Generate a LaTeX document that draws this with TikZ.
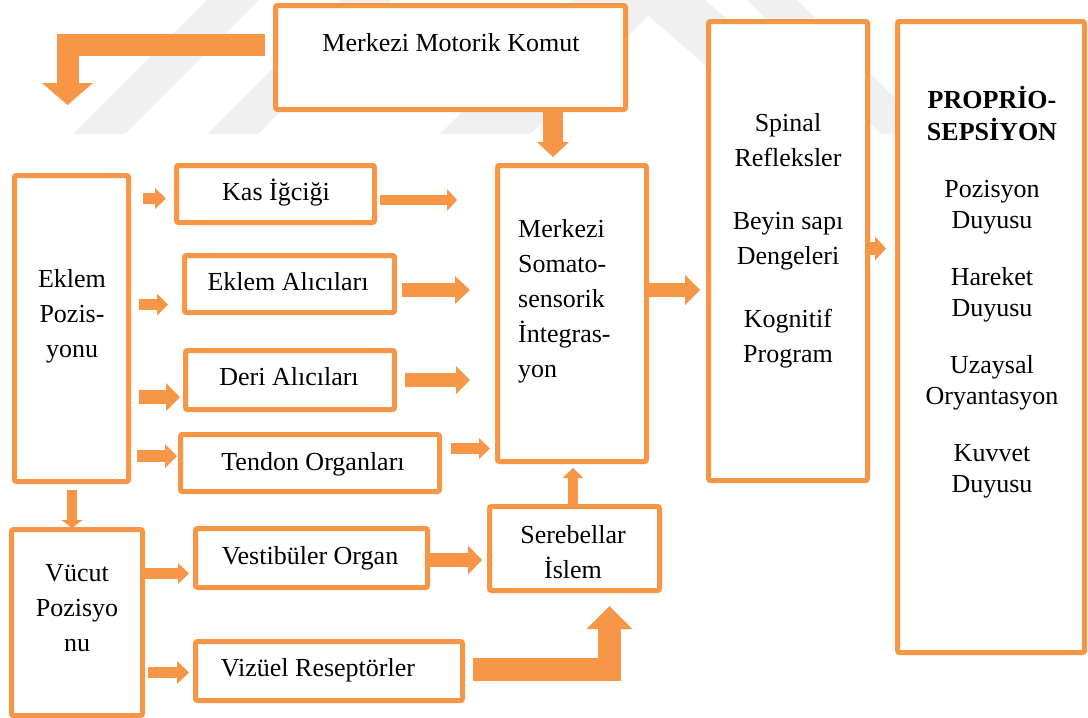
\documentclass[tikz,border=0pt]{standalone}
\usepackage{fontspec}
\setmainfont{Liberation Serif}
\usetikzlibrary{arrows.meta}
\definecolor{orng}{HTML}{F79646}
\definecolor{wm}{HTML}{F0F0F0}
\begin{document}
\begin{tikzpicture}[x=1pt,y=-1pt,
  box/.style={draw=orng, fill=white, line width=5pt, rounded corners=2pt, inner sep=0pt},
  txt/.style={inner sep=0pt, font=\fontsize{26}{35}\selectfont, align=center},
  ba/.style n args={3}{draw=orng, line width=#1, line cap=butt, line join=miter,
     -{Triangle[width=#2, length=#3, line width=0pt]}}]
\useasboundingbox (0,0) rectangle (1088,718);
\fill[white] (0,0) rectangle (1088,718);
% watermark
\begin{scope}
\clip (0,0) rectangle (1088,134);
\fill[wm] (207,0) -- (259,0) -- (125,134) -- (73,134) -- cycle;
\fill[wm] (341,0) -- (392,0) -- (258,134) -- (207,134) -- cycle;
\fill[wm] (574,0) -- (664,0) -- (530,134) -- (440,134) -- cycle;
\fill[wm] (630,0) -- (705,0) -- (860,134) -- (785,134) -- cycle;
\fill[wm] (747,0) -- (797,0) -- (931,134) -- (881,134) -- cycle;
\end{scope}
% boxes
\node[box, minimum width=350pt, minimum height=104pt] (mmk) at (450.5,57.5) {};
\node[box, minimum width=114pt, minimum height=306pt] (eklem) at (71.5,328.5) {};
\node[box, minimum width=198pt, minimum height=57pt] (kas) at (275.5,194) {};
\node[box, minimum width=210pt, minimum height=57pt] (alici) at (289.5,284) {};
\node[box, minimum width=209pt, minimum height=59pt] (deri) at (290,380) {};
\node[box, minimum width=259pt, minimum height=57pt] (tendon) at (310,463) {};
\node[box, minimum width=149pt, minimum height=296pt] (somato) at (572,313.5) {};
\node[box, minimum width=159pt, minimum height=459pt] (spinal) at (788,251) {};
\node[box, minimum width=187pt, minimum height=631pt] (proprio) at (991,337) {};
\node[box, minimum width=131pt, minimum height=186pt] (vucut) at (77,622.5) {};
\node[box, minimum width=232pt, minimum height=59pt] (vest) at (311.5,558) {};
\node[box, minimum width=170pt, minimum height=84pt] (sereb) at (574.5,548.5) {};
\node[box, minimum width=267pt, minimum height=59pt] (vizuel) at (329,671) {};
% texts
\node[txt] (tmmk) at (451,44.5) {\strut Merkezi Motorik Komut\strut};
\node[txt] (teklem) at (72,315) {\strut Eklem\\Pozis-\\yonu\strut};
\node[txt] (tkas) at (276,193.5) {\strut Kas İğciği\strut};
\node[txt] (talici) at (288,283.5) {\strut Eklem Alıcıları\strut};
\node[txt] (tderi) at (289,378) {\strut Deri Alıcıları\strut};
\node[txt] (ttendon) at (313,463.5) {\strut Tendon Organları\strut};
\node[txt, align=left, anchor=west] (tsomato) at (518,300) {\strut Merkezi\\Somato-\\sensorik\\İntegras-\\yon\strut};
\node[txt] (tspinal) at (788,239.5) {\strut Spinal\\Refleksler\\[28pt]Beyin sapı\\Dengeleri\\[28pt]Kognitif\\Program\strut};
\node[txt, font=\fontsize{26}{31}\selectfont] (tproprio) at (992,294) {\strut\textbf{PROPRİO-}\\\textbf{SEPSİYON}\\[26pt]Pozisyon\\Duyusu\\[26pt]Hareket\\Duyusu\\[26pt]Uzaysal\\Oryantasyon\\[26pt]Kuvvet\\Duyusu\strut};
\node[txt] (tvucut) at (77,609) {\strut Vücut\\Pozisyo\\nu\strut};
\node[txt] (tvest) at (310,557.5) {\strut Vestibüler Organ\strut};
\node[txt] (tsereb) at (573,554) {\strut Serebellar\\İslem\strut};
\node[txt] (tvizuel) at (318,669.5) {\strut Vizüel Reseptörler\strut};
% arrow end points
\coordinate (a1s) at (265,45);   \coordinate (a1e) at (67.5,105);
\coordinate (a2) at (553,157);
\coordinate (a3s) at (143,198.5); \coordinate (a3e) at (166,198.5);
\coordinate (a4s) at (380,200);  \coordinate (a4e) at (457,200);
\coordinate (a5s) at (139,304.5); \coordinate (a5e) at (168,304.5);
\coordinate (a6s) at (402,290);  \coordinate (a6e) at (470,290);
\coordinate (a7s) at (139,397);  \coordinate (a7e) at (180,397);
\coordinate (a8s) at (405,380);  \coordinate (a8e) at (470,380);
\coordinate (a9s) at (137,456);  \coordinate (a9e) at (177,456);
\coordinate (a10s) at (451,448.5); \coordinate (a10e) at (490,448.5);
\coordinate (a11) at (700,290);
\coordinate (a12) at (886,248.5);
\coordinate (a13s) at (72,490);  \coordinate (a13e) at (72,528);
\coordinate (a14) at (189,573.5);
\coordinate (a15s) at (148,672.5); \coordinate (a15e) at (189,672.5);
\coordinate (a16) at (482,560);
\coordinate (a17) at (573,468);
\coordinate (a18s) at (473,669.5); \coordinate (a18e) at (609.5,606);
% arrows
\draw[ba={22pt}{51pt}{22pt}] (a1s) -| (a1e);
\draw[ba={20pt}{32pt}{15pt}] (mmk.south -| a2) -- (a2);
\draw[ba={11pt}{21pt}{11pt}] (a3s) -- (a3e);
\draw[ba={10pt}{22pt}{10pt}] (a4s) -- (a4e);
\draw[ba={11pt}{22pt}{11pt}] (a5s) -- (a5e);
\draw[ba={14pt}{28pt}{15pt}] (a6s) -- (a6e);
\draw[ba={14pt}{28pt}{14pt}] (a7s) -- (a7e);
\draw[ba={14pt}{28pt}{14pt}] (a8s) -- (a8e);
\draw[ba={12pt}{24pt}{12pt}] (a9s) -- (a9e);
\draw[ba={11pt}{21pt}{11pt}] (a10s) -- (a10e);
\draw[ba={14pt}{30pt}{15pt}] (somato.east |- a11) -- (a11);
\draw[ba={13pt}{24pt}{11pt}] (spinal.east |- a12) -- (a12);
\draw[ba={10pt}{21pt}{8pt}] (a13s) -- (a13e);
\draw[ba={11pt}{21pt}{11pt}] (vucut.east |- a14) -- (a14);
\draw[ba={11pt}{23pt}{12pt}] (a15s) -- (a15e);
\draw[ba={14pt}{29pt}{14pt}] (vest.east |- a16) -- (a16);
\draw[ba={10pt}{21pt}{10pt}] (sereb.north -| a17) -- (a17);
\draw[ba={23pt}{46pt}{23pt}] (a18s) -| (a18e);
\end{tikzpicture}
\end{document}
